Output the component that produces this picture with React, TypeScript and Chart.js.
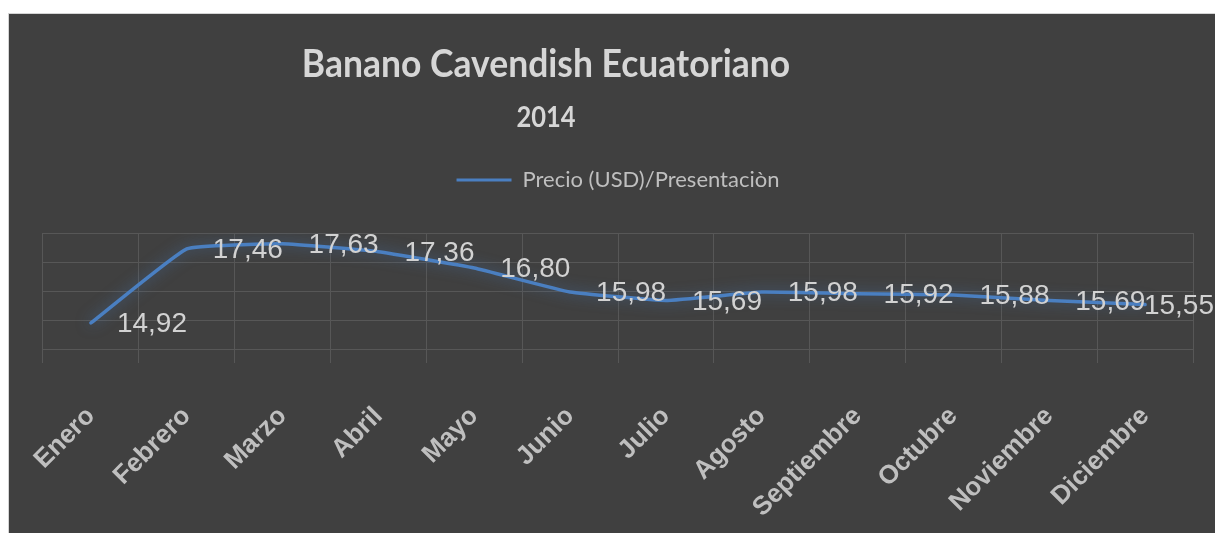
import React, { useEffect, useRef } from "react";
import { Chart, registerables } from "chart.js";

Chart.register(...registerables);

const TITLE = "Banano Cavendish Ecuatoriano";
const SUBTITLE = "2014";
const SERIES_LABEL = "Precio (USD)/Presentaciòn";

const months = [
  "Enero",
  "Febrero",
  "Marzo",
  "Abril",
  "Mayo",
  "Junio",
  "Julio",
  "Agosto",
  "Septiembre",
  "Octubre",
  "Noviembre",
  "Diciembre",
];

const prices = [14.92, 17.46, 17.63, 17.36, 16.8, 15.98, 15.69, 15.98, 15.92, 15.88, 15.69, 15.55];

const yGridTicks = [14, 15, 16, 17, 18];
const Y_MIN = 13.55;
const Y_MAX = 18;

const LINE_COLOR = "#4a7fc1";
const BG = "#404040";

const formatPrice = (v: number) => v.toFixed(2).replace(".", ",");

const drawCondensed = (ctx: any, text: string, font: string, cx: number, baseline: number, sx: number) => {
  ctx.save();
  ctx.font = font;
  ctx.translate(cx, baseline);
  ctx.scale(sx, 1);
  ctx.fillText(text, 0, 0);
  ctx.restore();
};

const titlePlugin = {
  id: "customTitle",
  afterDraw(chart: any) {
    const ctx = chart.ctx;
    ctx.save();
    ctx.fillStyle = "#d6d6d6";
    ctx.textAlign = "center";
    ctx.textBaseline = "alphabetic";
    drawCondensed(ctx, TITLE, "bold 39px Lato, 'Open Sans', sans-serif", 537, 63, 0.91);
    drawCondensed(ctx, SUBTITLE, "bold 29px Lato, 'Open Sans', sans-serif", 537, 113, 0.88);
    ctx.restore();
  },
};

const glowPlugin = {
  id: "glow",
  beforeDatasetDraw(chart: any) {
    const ctx = chart.ctx;
    ctx.save();
    ctx.shadowColor = "rgba(74,127,193,0.6)";
    ctx.shadowBlur = 14;
  },
  afterDatasetDraw(chart: any) {
    chart.ctx.restore();
  },
};

const pointLabelPlugin = {
  id: "pointLabels",
  afterDatasetsDraw(chart: any) {
    const ctx = chart.ctx;
    const meta = chart.getDatasetMeta(0);
    ctx.save();
    ctx.font = "28px 'Liberation Sans', Arial, sans-serif";
    ctx.fillStyle = "#d2d2d2";
    ctx.textAlign = "left";
    ctx.textBaseline = "middle";
    meta.data.forEach((pt: any, i: number) => {
      const txt = formatPrice(prices[i]);
      const w = ctx.measureText(txt).width;
      let x = pt.x + 26;
      x = Math.min(x, chart.width - w - 1);
      ctx.fillText(txt, x, pt.y + 1.5);
    });
    ctx.restore();
  },
};

export default function App() {
  const canvasRef = useRef<HTMLCanvasElement | null>(null);

  useEffect(() => {
    if (!canvasRef.current) return;
    const chart = new Chart(canvasRef.current, {
      type: "line",
      data: {
        labels: months,
        datasets: [
          {
            label: SERIES_LABEL,
            data: prices,
            borderColor: LINE_COLOR,
            backgroundColor: LINE_COLOR,
            borderWidth: 3.5,
            pointRadius: 0,
            pointHoverRadius: 0,
            tension: 0.1,
            fill: false,
            borderCapStyle: "round",
            borderJoinStyle: "round",
          },
        ],
      },
      options: {
        responsive: false,
        animation: false,
        layout: {
          padding: { top: 124, left: 34, right: 22, bottom: 0 },
        },
        plugins: {
          title: { display: false },
          tooltip: { enabled: false },
          legend: {
            display: true,
            position: "top",
            labels: {
              color: "#bfbfbf",
              font: { family: "Lato, 'Open Sans', sans-serif", size: 22 },
              boxWidth: 55,
              boxHeight: 3,
              padding: 31,
              generateLabels: (c: any) =>
                Chart.defaults.plugins.legend.labels
                  .generateLabels(c)
                  .map((it: any) => ({ ...it, lineWidth: 0 })),
            },
          },
        },
        scales: {
          x: {
            offset: true,
            grid: {
              offset: true,
              color: "#575757",
              lineWidth: 1,
              drawTicks: false,
            },
            border: { display: false },
            ticks: {
              color: "#bfbfbf",
              font: { family: "'Liberation Sans', Arial, sans-serif", size: 26, weight: "bold" },
              maxRotation: 45,
              minRotation: 45,
              autoSkip: false,
              padding: 38,
            },
            afterFit: (s: any) => {
              s.height = 170;
              s.paddingLeft = 0;
              s.paddingRight = 0;
            },
          },
          xTop: {
            type: "category",
            position: "top",
            grid: { display: false, drawTicks: false },
            border: { display: false },
            ticks: { display: false },
            afterFit: (s: any) => {
              s.height = 32;
            },
          },
          y: {
            min: Y_MIN,
            max: Y_MAX,
            afterBuildTicks: (s: any) => {
              s.ticks = yGridTicks.map((v) => ({ value: v }));
            },
            grid: {
              color: "#575757",
              lineWidth: 1,
              drawTicks: false,
            },
            border: { display: false },
            ticks: { display: false },
          },
        },
      },
      plugins: [titlePlugin, glowPlugin, pointLabelPlugin],
    } as any);
    return () => chart.destroy();
  }, []);

  return (
    <div
      style={{
        position: "fixed",
        left: 8,
        top: 13,
        width: 1206,
        height: 519,
        background: BG,
        border: "1px solid #d4d4d4",
        overflow: "hidden",
      }}
    >
      <canvas ref={canvasRef} width={1206} height={519} style={{ display: "block" }} />
    </div>
  );
}
